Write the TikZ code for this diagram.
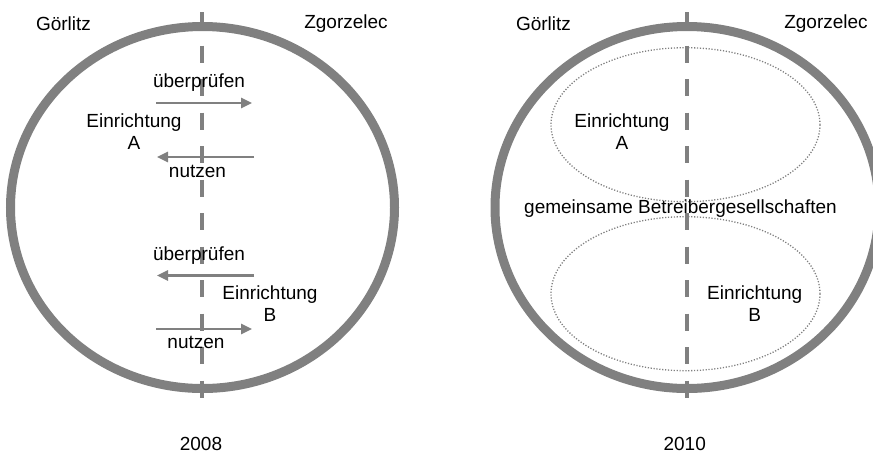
\documentclass[tikz,border=0pt]{standalone}
\usepackage{fontspec}
\setmainfont{Liberation Sans}
\usetikzlibrary{arrows.meta}
\definecolor{rim}{HTML}{808080}
\begin{document}
\begin{tikzpicture}[x=1pt,y=-1pt,
  lbl/.style={font=\fontsize{19}{22}\selectfont, inner sep=0pt, align=center, text=black},
  rimline/.style={draw=rim, line width=9pt},
  border/.style={draw=rim, line width=4.5pt, dash pattern=on 17pt off 16.5pt},
  flow/.style={draw=rim, line width=2.5pt, -{Triangle[length=11pt,width=10pt]}},
  zone/.style={draw=rim, line width=1.3pt, dash pattern=on 1.2pt off 1.7pt}]
\useasboundingbox (0,0) rectangle (873,453);
\clip (0,0) rectangle (873,453);

% ---------- 2008: separate facilities ----------
\draw[rimline] (202.5,207.5) ellipse [x radius=192, y radius=181];
\draw[border] (202,12) -- (202,400);

\node[lbl] (gl1) at (63.5,24) {Görlitz};
\node[lbl] (zg1) at (346,24) {Zgorzelec};
\node[lbl] (y1) at (201,444) {2008};

\node[lbl] (ea1) at (134,132) {Einrichtung\\A};
\node[lbl] (eb1) at (270,304) {Einrichtung\\B};

\node[lbl] (pr1) at (199,83) {überprüfen};
\node[lbl] (nu1) at (197.5,171) {nutzen};
\node[lbl] (pr2) at (199,256) {überprüfen};
\node[lbl] (nu2) at (196,342) {nutzen};

\coordinate (a1s) at (156,103);   \coordinate (a1e) at (252,103);
\coordinate (a2s) at (254,157);   \coordinate (a2e) at (157,157);
\coordinate (a3s) at (254,275.5); \coordinate (a3e) at (157,275.5);
\coordinate (a4s) at (156,329);   \coordinate (a4e) at (252,329);
\draw[flow] (a1s) -- (a1e);
\draw[flow] (a2s) -- (a2e);
\draw[flow] (a3s) -- (a3e);
\draw[flow] (a4s) -- (a4e);

% ---------- 2010: joint operating companies ----------
\draw[rimline] (687,207.5) ellipse [x radius=192, y radius=181];
\draw[zone] (685.5,124.7) ellipse [x radius=134.5, y radius=77];
\draw[zone] (685.5,293.7) ellipse [x radius=134.5, y radius=77];
\draw[border] (687,12) -- (687,400);

\node[lbl] (gl2) at (543.5,24) {Görlitz};
\node[lbl] (zg2) at (826,24) {Zgorzelec};
\node[lbl] (y2) at (684.7,444) {2010};

\node[lbl] (ea2) at (622,132) {Einrichtung\\A};
\node[lbl] (eb2) at (754.7,304) {Einrichtung\\B};
\node[lbl] (joint) at (680.5,208.5) {gemeinsame Betreibergesellschaften};
\end{tikzpicture}
\end{document}
